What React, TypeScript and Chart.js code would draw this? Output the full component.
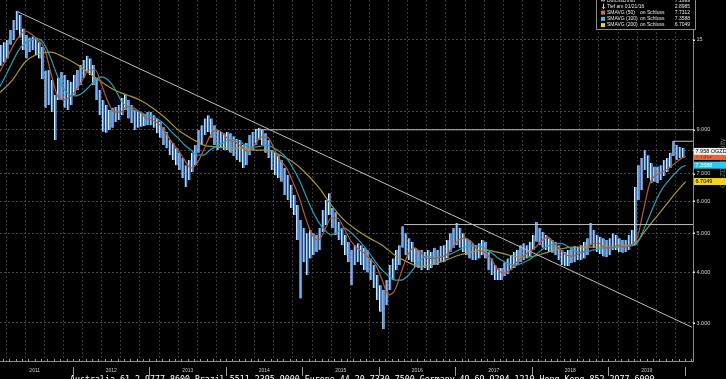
import React, { useEffect, useRef } from "react";
import { Chart, registerables } from "chart.js";

Chart.register(...registerables);

// Half-monthly price ranges (high / low), starting January 2011
const barStartYear = 2011;
const barsPerYear = 24;
const priceHigh: number[] = [
  // 2011
  14.16, 14.57, 14.8, 15.0, 15.87, 16.8, 17.7, 17.28, 16.0, 15.42, 15.2, 15.3, 15.2, 14.8, 14.4, 12.6, 12.64, 11.94, 10.97, 12.1, 12.5, 12.29, 11.94, 11.8,
  // 2012
  12.29, 12.64, 13.01, 13.38, 13.7, 13.5, 13.0, 12.1, 11.28, 10.66, 10.36, 10.07, 10.2, 10.25, 10.36, 10.78, 10.97, 10.66, 10.36, 10.07, 9.95, 9.9, 9.84, 9.95,
  // 2013
  9.95, 9.78, 9.6, 9.4, 9.13, 8.88, 8.49, 8.35, 8.1, 7.9, 7.66, 7.36, 7.58, 7.9, 8.25, 8.99, 9.24, 9.6, 9.78, 9.6, 9.24, 8.99, 8.88, 8.82,
  // 2014
  8.88, 8.82, 8.67, 8.55, 8.49, 8.25, 8.35, 8.73, 8.88, 9.05, 9.1, 9.0, 8.82, 8.49, 8.02, 7.9, 7.79, 7.58, 7.24, 6.96, 6.57, 6.21, 5.87, 5.39,
  // 2015
  5.15, 5.0, 5.09, 5.0, 4.95, 5.15, 5.7, 6.04, 6.27, 5.77, 5.63, 5.33, 5.15, 4.95, 4.76, 4.54, 4.67, 4.72, 4.67, 4.6, 4.54, 4.33, 4.17, 3.94,
  // 2016
  3.72, 3.62, 3.83, 4.17, 4.33, 4.54, 4.67, 5.2, 5.0, 4.86, 4.76, 4.6, 4.54, 4.54, 4.49, 4.54, 4.49, 4.6, 4.54, 4.65, 4.67, 4.81, 5.0, 5.15,
  // 2017
  5.3, 5.15, 5.0, 4.86, 4.81, 4.72, 4.67, 4.72, 4.81, 4.76, 4.49, 4.33, 4.17, 4.1, 4.1, 4.24, 4.33, 4.41, 4.49, 4.54, 4.67, 4.72, 4.67, 4.76,
  // 2018
  4.95, 5.33, 5.15, 5.03, 4.95, 4.86, 4.81, 4.76, 4.67, 4.54, 4.49, 4.54, 4.6, 4.65, 4.62, 4.67, 4.76, 4.86, 5.3, 5.09, 4.95, 4.9, 4.86, 4.81,
  // 2019
  4.86, 5.0, 4.95, 4.86, 4.81, 4.81, 4.95, 5.09, 6.5, 7.36, 7.66, 8.02, 7.79, 7.45, 7.3, 7.3, 7.36, 7.58, 7.66, 7.9, 8.43, 8.25, 8.16, 8.12,
];
const priceLow: number[] = [
  // 2011
  12.8, 12.95, 13.2, 13.5, 14.6, 15.0, 15.87, 15.2, 14.16, 13.5, 14.0, 14.16, 13.77, 13.5, 12.0, 10.2, 10.36, 9.95, 8.49, 10.66, 10.66, 10.2, 10.07, 10.36,
  // 2012
  10.97, 11.28, 11.61, 12.1, 12.5, 12.29, 11.61, 10.66, 9.78, 8.9, 8.85, 8.99, 9.1, 9.4, 9.51, 9.78, 10.07, 9.6, 9.35, 8.99, 9.1, 9.15, 9.2, 9.24,
  // 2013
  9.24, 9.1, 8.82, 8.6, 8.25, 8.1, 7.79, 7.58, 7.36, 7.16, 6.84, 6.5, 6.76, 7.08, 7.36, 7.9, 8.25, 8.73, 8.88, 8.6, 8.25, 8.02, 8.1, 8.02,
  // 2014
  8.02, 7.9, 7.75, 7.58, 7.48, 7.24, 7.36, 7.79, 8.02, 8.25, 8.49, 8.25, 7.9, 7.66, 7.16, 6.96, 6.84, 6.7, 6.21, 6.04, 5.77, 5.54, 4.81, 3.45,
  // 2015
  4.24, 3.94, 4.33, 4.41, 4.49, 4.54, 5.03, 5.24, 5.54, 5.15, 4.95, 4.81, 4.67, 4.41, 4.24, 3.72, 4.17, 4.24, 4.17, 4.05, 4.0, 3.83, 3.66, 3.42,
  // 2016
  3.2, 2.9, 3.32, 3.62, 3.83, 4.05, 4.17, 4.6, 4.41, 4.29, 4.24, 4.12, 4.1, 4.05, 4.1, 4.05, 4.1, 4.17, 4.17, 4.24, 4.24, 4.33, 4.49, 4.6,
  // 2017
  4.67, 4.6, 4.49, 4.41, 4.33, 4.29, 4.29, 4.33, 4.41, 4.33, 4.05, 3.94, 3.83, 3.83, 3.83, 3.92, 3.96, 4.05, 4.1, 4.17, 4.24, 4.29, 4.33, 4.38,
  // 2018
  4.54, 4.76, 4.67, 4.6, 4.54, 4.49, 4.47, 4.41, 4.29, 4.17, 4.14, 4.15, 4.22, 4.24, 4.29, 4.29, 4.33, 4.41, 4.67, 4.6, 4.49, 4.44, 4.38, 4.36,
  // 2019
  4.41, 4.54, 4.54, 4.49, 4.47, 4.49, 4.54, 4.67, 4.67, 6.04, 6.39, 7.16, 6.84, 6.64, 6.7, 6.64, 6.76, 6.92, 7.08, 7.24, 7.75, 7.58, 7.66, 7.66,
];

// Monthly moving averages, starting January 2011
const sma50: number[] = [
  12.5, 13.38, 14.4, 15.25, 15.78, 15.5, 15.0, 14.3, 12.5, 10.97, 10.66, 10.85,
  11.28, 11.94, 12.64, 12.64, 11.61, 10.54, 9.95, 9.95, 10.3, 10.19, 9.95, 9.62,
  9.51, 9.29, 8.88, 8.39, 8.02, 7.58, 7.24, 7.45, 8.02, 8.68, 8.99, 8.82,
  8.49, 8.39, 8.16, 7.93, 8.25, 8.63, 8.63, 8.11, 7.58, 7.24, 6.69, 6.11,
  5.45, 4.95, 4.81, 5.09, 5.45, 5.45, 5.15, 4.81, 4.6, 4.49, 4.33, 4.17,
  3.83, 3.52, 3.62, 4.0, 4.41, 4.6, 4.49, 4.33, 4.33, 4.36, 4.41, 4.6,
  4.81, 4.86, 4.76, 4.54, 4.49, 4.33, 4.1, 3.98, 4.05, 4.22, 4.36, 4.49,
  4.6, 4.78, 4.89, 4.72, 4.54, 4.41, 4.39, 4.46, 4.54, 4.72, 4.72, 4.6,
  4.6, 4.67, 4.62, 4.67, 4.86, 5.7, 6.65, 6.96, 7.08, 7.24, 7.45, 7.66,
];
const sma100: number[] = [
  11.48, 12.29, 13.23, 14.16, 14.74, 15.0, 15.08, 14.65, 13.53, 12.29, 11.41, 10.97,
  10.91, 11.1, 11.48, 11.94, 12.15, 11.94, 11.41, 10.66, 10.24, 10.07, 9.95, 9.78,
  9.67, 9.51, 9.24, 8.88, 8.58, 8.25, 8.02, 7.79, 7.79, 8.02, 8.2, 8.35,
  8.49, 8.49, 8.35, 8.16, 8.16, 8.2, 8.25, 8.11, 7.93, 7.66, 7.24, 6.76,
  6.21, 5.7, 5.33, 5.09, 4.95, 5.03, 5.15, 5.03, 4.86, 4.67, 4.46, 4.24,
  4.05, 3.92, 3.83, 3.83, 3.92, 4.1, 4.29, 4.39, 4.36, 4.36, 4.41, 4.46,
  4.54, 4.62, 4.65, 4.65, 4.6, 4.49, 4.36, 4.26, 4.19, 4.17, 4.22, 4.29,
  4.41, 4.54, 4.65, 4.7, 4.72, 4.65, 4.54, 4.49, 4.49, 4.54, 4.57, 4.6,
  4.6, 4.62, 4.62, 4.65, 4.72, 5.09, 5.54, 6.04, 6.46, 6.76, 7.04, 7.28,
];
const sma200Months: number[] = [
  0, 2, 4, 6, 8, 10, 12, 14, 16, 18, 20, 22, 24, 26, 28, 30, 32, 34, 36, 38, 40, 42, 44, 46, 48, 50,
  52, 54, 56, 58, 60, 62, 64, 66, 68, 70, 72, 74, 76, 78, 80, 82, 84, 86, 88, 90, 92, 94, 96, 98, 100,
  101, 102, 103, 104, 105, 106, 107,
];
const sma200: number[] = [
  11.1, 11.94, 13.23, 13.85, 14.0, 13.61, 13.08, 12.43, 11.8, 11.28, 10.97, 10.66, 10.19, 9.62, 8.99, 8.58, 8.25, 8.16, 8.11, 8.11, 8.02, 8.02, 7.79, 7.49, 7.04, 6.5,
  5.87, 5.39, 5.09, 4.86, 4.67, 4.41, 4.24, 4.14, 4.19, 4.29, 4.41, 4.49, 4.54, 4.49, 4.41, 4.36, 4.39, 4.49, 4.57, 4.62, 4.62, 4.62, 4.62, 4.65, 4.76,
  5.0, 5.24, 5.48, 5.73, 6.0, 6.28, 6.54,
];

const lastDate = 2020.01;
const lastPrice = 7.958;
const lastSma50 = 7.7312;
const lastSma100 = 7.3588;
const lastSma200 = 6.7049;
const averagePrice = 7.1999;
const lowDate = "01/21/16";
const lowPrice = 2.8985;

// Drawn analysis lines (date in years, price)
const trendLine = [{ x: 2011.28, y: 17.6 }, { x: 2020.09, y: 2.93 }];
const resistance2014 = [{ x: 2014.39, y: 9.0 }, { x: 2020.105, y: 9.0 }];
const resistance2016 = [{ x: 2016.33, y: 5.25 }, { x: 2020.105, y: 5.25 }];
const recentHigh = [{ x: 2019.84, y: 8.43 }, { x: 2020.105, y: 8.43 }];

const yearLabels: number[] = [2011, 2012, 2013, 2014, 2015, 2016, 2017, 2018, 2019];
const yTickValues: number[] = [3, 4, 5, 6, 7, 8, 9, 10, 15];
const yLabelValues: number[] = [3, 4, 5, 6, 7, 8, 9, 15];
const ticker = "OGZD";
const footerText =
  "Australia 61 2 9777 8600 Brazil 5511 2395 9000 Europe 44 20 7330 7500 Germany 49 69 9204 1210 Hong Kong 852 2977 6000";

const X_MIN = 2011.046;
const X_MAX = 2020.105;
const Y_MIN = 2.417;
const Y_MAX = 18.82;

const COL_SMA50 = "#b65a32";
const COL_SMA100 = "#2a9fb5";
const COL_SMA200 = "#a99532";
const LEG_SMA50 = "#e8653a";
const LEG_SMA100 = "#2ec6f2";
const LEG_SMA200 = "#f4d21e";
const LINE_GREY = "#bdbdbd";

const SANS = '"Liberation Sans", Arial, sans-serif';

const overlayPlugin = {
  id: "overlay",
  afterDraw(chart: any) {
    const { ctx, chartArea } = chart;
    const xs = chart.scales.x;
    const ys = chart.scales.y;
    ctx.save();

    // minor month marks on the time axis
    ctx.fillStyle = "#9a9a9a";
    for (let yr = 2011; yr <= 2020; yr++) {
      for (let m = 0; m < 12; m++) {
        const v = yr + m / 12;
        if (v < X_MIN || v > X_MAX) continue;
        const px = Math.round(xs.getPixelForValue(v));
        ctx.fillRect(px, chartArea.bottom - 2, 1, 2);
      }
    }

    // year separators and labels
    ctx.strokeStyle = "#9a9a9a";
    ctx.lineWidth = 1;
    for (let yr = 2012; yr <= 2020; yr++) {
      const px = Math.round(xs.getPixelForValue(yr)) + 0.5;
      ctx.beginPath();
      ctx.moveTo(px, chartArea.bottom + 6);
      ctx.lineTo(px, chartArea.bottom + 15);
      ctx.stroke();
    }
    ctx.fillStyle = "#c8c8c8";
    ctx.font = `5px ${SANS}`;
    ctx.textAlign = "center";
    ctx.textBaseline = "middle";
    for (const yr of yearLabels) {
      ctx.fillText(String(yr), xs.getPixelForValue(yr + 0.5), chartArea.bottom + 10);
    }

    // y axis labels and tick marks
    ctx.font = `5.5px ${SANS}`;
    ctx.textAlign = "left";
    for (const v of yLabelValues) {
      const py = ys.getPixelForValue(v);
      ctx.fillStyle = "#e0e0e0";
      ctx.fillRect(chartArea.right, Math.round(py) - 0.5, 2, 1.5);
      ctx.fillStyle = "#d0d0d0";
      ctx.fillText(v >= 10 ? String(v) : v.toFixed(3), chartArea.right + 3.5, py);
    }

    // rotated ticker text on the far right
    ctx.save();
    ctx.translate(723, 188);
    ctx.rotate(-Math.PI / 2);
    ctx.font = `7px ${SANS}`;
    ctx.fillStyle = "#6a6a6a";
    ctx.textAlign = "left";
    ctx.textBaseline = "middle";
    ctx.fillText(ticker + " LI Equity", 0, 0);
    ctx.restore();

    // last value boxes
    const boxes = [
      { v: lastSma200, bg: LEG_SMA200, fg: "#000000", t: lastSma200.toFixed(4) },
      { v: lastSma100, bg: LEG_SMA100, fg: "#eaffff", t: lastSma100.toFixed(4) },
      { v: lastSma50, bg: LEG_SMA50, fg: "#8a2a08", t: lastSma50.toFixed(4) },
      { v: lastPrice, bg: "#f2f2f2", fg: "#000000", t: lastPrice.toFixed(3) + " " + ticker + " LI Equity" },
    ];
    ctx.font = `5.5px ${SANS}`;
    ctx.textBaseline = "middle";
    ctx.textAlign = "left";
    for (const b of boxes) {
      const py = ys.getPixelForValue(b.v);
      ctx.fillStyle = b.bg;
      ctx.fillRect(chartArea.right + 1, py - 3.5, 40, 7);
      ctx.fillStyle = b.fg;
      ctx.fillText(b.t, chartArea.right + 2.5, py + 0.3);
    }

    // legend box
    const lx = 596;
    const lr = 695;
    ctx.fillStyle = "#000000";
    ctx.fillRect(lx, -10, lr - lx, 40);
    ctx.strokeStyle = "#8c8c8c";
    ctx.lineWidth = 1;
    ctx.strokeRect(lx + 0.5, -10, lr - lx, 39.5);
    ctx.font = `5px ${SANS}`;
    ctx.textBaseline = "middle";
    const rows = [
      { icon: "line", color: "#cfcfcf", label: "Durchschnitt", mid: "", value: averagePrice.toFixed(4) },
      { icon: "arrow", color: "#cfcfcf", label: "Tief am " + lowDate, mid: "", value: lowPrice.toFixed(4) },
      { icon: "sq", color: LEG_SMA50, label: "SMAVG (50)", mid: "on Schluss", value: lastSma50.toFixed(4) },
      { icon: "sq", color: LEG_SMA100, label: "SMAVG (100)", mid: "on Schluss", value: lastSma100.toFixed(4) },
      { icon: "sq", color: LEG_SMA200, label: "SMAVG (200)", mid: "on Schluss", value: lastSma200.toFixed(4) },
    ];
    const rowY = [0.3, 6.2, 12.6, 18.9, 25.1];
    rows.forEach((r, i) => {
      const cy = rowY[i];
      if (r.icon === "sq") {
        ctx.fillStyle = r.color;
        ctx.fillRect(601, cy - 2, 4, 4);
      } else if (r.icon === "arrow") {
        ctx.strokeStyle = r.color;
        ctx.beginPath();
        ctx.moveTo(603.5, cy - 2.5);
        ctx.lineTo(603.5, cy + 2.5);
        ctx.moveTo(602, cy + 1);
        ctx.lineTo(603.5, cy + 2.5);
        ctx.lineTo(605, cy + 1);
        ctx.stroke();
      } else {
        ctx.fillStyle = r.color;
        ctx.fillRect(601, cy, 4, 1);
      }
      ctx.fillStyle = "#e6e6e6";
      ctx.textAlign = "left";
      ctx.fillText(r.label, 607, cy);
      if (r.mid) ctx.fillText(r.mid, 640, cy);
      ctx.textAlign = "right";
      ctx.fillText(r.value, 690, cy);
    });

    ctx.restore();
  },
};

export default function App() {
  const canvasRef = useRef<HTMLCanvasElement | null>(null);

  useEffect(() => {
    document.body.style.margin = "0";
    document.body.style.background = "#000";
    const canvas = canvasRef.current;
    if (!canvas) return;

    const barData = priceHigh.map((h, i) => ({
      x: barStartYear + (i + 0.5) / barsPerYear,
      y: [priceLow[i], h],
    }));
    const monthX = (m: number) => 2011 + (m + 0.5) / 12;
    const sma50Data = sma50.map((v, m) => ({ x: monthX(m), y: v })).concat([{ x: lastDate, y: lastSma50 }]);
    const sma100Data = sma100.map((v, m) => ({ x: monthX(m), y: v })).concat([{ x: lastDate, y: lastSma100 }]);
    const sma200Data = sma200.map((v, k) => ({ x: monthX(sma200Months[k]), y: v })).concat([{ x: lastDate, y: lastSma200 }]);

    const quarterTicks: { value: number }[] = [];
    for (let yr = 2011; yr <= 2020; yr++) {
      for (let q = 0; q < 4; q++) {
        const v = yr + q / 4;
        if (v > X_MIN && v < X_MAX) quarterTicks.push({ value: v });
      }
    }

    const lineStyle = (color: string, width: number, order: number) => ({
      type: "line" as const,
      borderColor: color,
      borderWidth: width,
      pointRadius: 0,
      fill: false,
      order,
    });

    const chart = new Chart(canvas, {
      type: "bar",
      data: {
        datasets: [
          { ...lineStyle(LINE_GREY, 1, 0), label: "Trend", data: trendLine },
          { ...lineStyle(LINE_GREY, 1, 0), label: "Widerstand 2014", data: resistance2014 },
          { ...lineStyle(LINE_GREY, 1, 0), label: "Widerstand 2016", data: resistance2016 },
          { ...lineStyle(LINE_GREY, 1, 0), label: "Hoch", data: recentHigh },
          { ...lineStyle(COL_SMA50, 1.2, 1), label: "SMAVG (50)", data: sma50Data, cubicInterpolationMode: "monotone" },
          { ...lineStyle(COL_SMA100, 1.2, 1), label: "SMAVG (100)", data: sma100Data, cubicInterpolationMode: "monotone" },
          { ...lineStyle(COL_SMA200, 1.2, 1), label: "SMAVG (200)", data: sma200Data, cubicInterpolationMode: "monotone" },
          {
            type: "bar",
            label: ticker,
            data: barData,
            backgroundColor: "#4a8fe4",
            borderColor: "#f4f8ff",
            borderWidth: { left: 1, right: 0, top: 0, bottom: 0 },
            borderSkipped: false,
            barThickness: 2.5,
            grouped: false,
            order: 2,
          },
        ] as any,
      },
      options: {
        animation: false,
        responsive: true,
        maintainAspectRatio: false,
        events: [],
        layout: { padding: 0 },
        plugins: { legend: { display: false }, tooltip: { enabled: false } },
        scales: {
          x: {
            type: "linear",
            min: X_MIN,
            max: X_MAX,
            offset: false,
            bounds: "data",
            afterBuildTicks: (s: any) => {
              s.ticks = quarterTicks.map((t) => ({ ...t }));
            },
            afterFit: (s: any) => {
              s.height = 18;
            },
            ticks: { display: false },
            grid: { color: "#363636", lineWidth: 1, drawTicks: false },
            border: { display: true, color: "#8a8a8a", dash: [2, 2] },
          },
          y: {
            type: "logarithmic",
            position: "right",
            min: Y_MIN,
            max: Y_MAX,
            bounds: "data",
            afterBuildTicks: (s: any) => {
              s.ticks = yTickValues.map((v) => ({ value: v }));
            },
            afterFit: (s: any) => {
              s.width = 33;
            },
            ticks: { display: false },
            grid: { color: "#484848", lineWidth: 1, drawTicks: false },
            border: { display: true, color: "#8a8a8a", dash: [2, 2] },
          },
        },
      } as any,
      plugins: [overlayPlugin],
    });

    return () => chart.destroy();
  }, []);

  return (
    <div
      style={{
        position: "fixed",
        left: 0,
        top: 0,
        width: 726,
        height: 379,
        background: "#000",
        overflow: "hidden",
      }}
    >
      <canvas ref={canvasRef} />
      <div
        style={{
          position: "absolute",
          left: 70,
          top: 373.7,
          fontFamily: '"DejaVu Sans Mono", monospace',
          fontSize: "8.3px",
          lineHeight: "10px",
          color: "#ffffff",
          whiteSpace: "nowrap",
        }}
      >
        {footerText}
      </div>
    </div>
  );
}
